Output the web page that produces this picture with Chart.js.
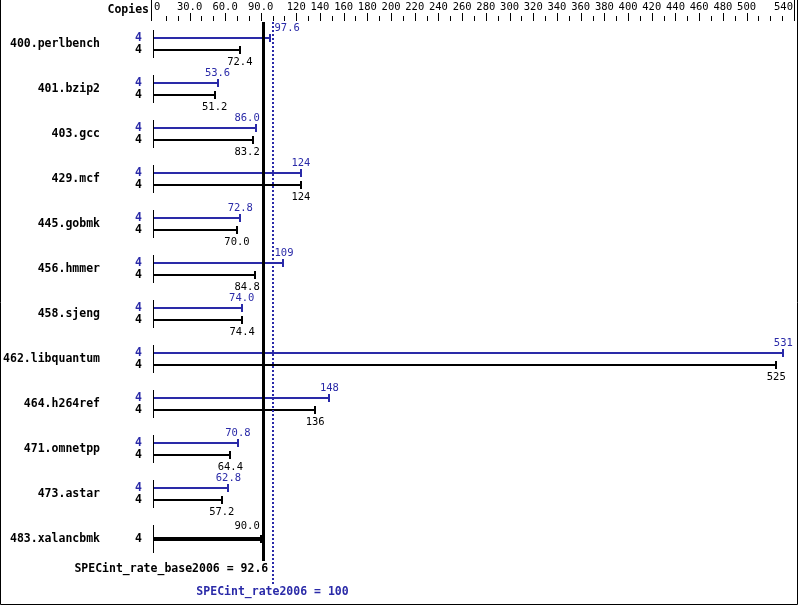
<!DOCTYPE html>
<html><head><meta charset="utf-8">
<script src="https://cdn.jsdelivr.net/npm/chart.js@4/dist/chart.umd.min.js"></script>
<style>html,body{margin:0;padding:0;background:#fff}canvas{display:block}</style>
</head><body>
<canvas id="c" width="799" height="606"></canvas>
<script>
const benchmarks = ['400.perlbench','401.bzip2','403.gcc','429.mcf','445.gobmk','456.hmmer',
  '458.sjeng','462.libquantum','464.h264ref','471.omnetpp','473.astar','483.xalancbmk'];
const peakValues = [97.6, 53.6, 86.0, 124, 72.8, 109, 74.0, 531, 148, 70.8, 62.8, null];
const baseValues = [72.4, 51.2, 83.2, 124, 70.0, 84.8, 74.4, 525, 136, 64.4, 57.2, 90.0];
const peakCopies = [4, 4, 4, 4, 4, 4, 4, 4, 4, 4, 4, null];
const baseCopies = [4, 4, 4, 4, 4, 4, 4, 4, 4, 4, 4, 4];
const tickLabels = ['0','30.0','60.0','90.0','120','140','160','180','200','220','240','260','280',
  '300','320','340','360','380','400','420','440','460','480','500','540'];
const axisMax = 540;
const baseScore = 92.6;
const peakScore = 100;
const baseScoreLabel = 'SPECint_rate_base2006 = 92.6';
const peakScoreLabel = 'SPECint_rate2006 = 100';

const BLUE = '#2a2aa8';
const MONO = '"DejaVu Sans Mono", "Liberation Mono", monospace';
const BOLD = 'bold 11.5px ' + MONO;
const REG = '10.5px ' + MONO;

function fmt(v) { return v.toPrecision(3); }

const overlay = {
  id: 'specOverlay',
  afterDatasetsDraw(chart) {
    const ctx = chart.ctx, xs = chart.scales.x, ys = chart.scales.y;
    const x0 = xs.getPixelForValue(0);
    const xBase = xs.getPixelForValue(baseScore);
    const xPeak = xs.getPixelForValue(peakScore);
    ctx.save();
    // outer border
    ctx.strokeStyle = '#000'; ctx.lineWidth = 1;
    ctx.beginPath();
    ctx.moveTo(0.5, 0); ctx.lineTo(0.5, 604.5); ctx.lineTo(797.5, 604.5); ctx.lineTo(797.5, 0);
    ctx.stroke();

    // header
    ctx.fillStyle = '#000';
    ctx.font = BOLD; ctx.textAlign = 'right'; ctx.textBaseline = 'middle';
    ctx.fillText('Copies', 149, 10);
    ctx.beginPath();
    ctx.moveTo(151.5, 0); ctx.lineTo(151.5, 21);
    ctx.moveTo(Math.round(xs.getPixelForValue(axisMax)) + 0.5, 0);
    ctx.lineTo(Math.round(xs.getPixelForValue(axisMax)) + 0.5, 21);
    ctx.stroke();
    const labeled = tickLabels.map(Number);
    for (let v = 10; v < axisMax; v += 10) {
      const px = Math.round(xs.getPixelForValue(v)) + 0.5;
      const long = labeled.includes(v);
      ctx.beginPath(); ctx.moveTo(px, long ? 13 : 16); ctx.lineTo(px, 21); ctx.stroke();
    }
    ctx.font = REG; ctx.textAlign = 'left';
    const xEnd = xs.getPixelForValue(axisMax);
    tickLabels.forEach(t => {
      const px = xs.getPixelForValue(Number(t));
      const w = ctx.measureText(t).width;
      let l = px - w / 2;
      if (l < x0) l = x0;
      if (l + w > xEnd - 1) l = xEnd - 1 - w;
      ctx.fillText(t, l, 7);
    });

    // groups
    const metaP = chart.getDatasetMeta(0), metaB = chart.getDatasetMeta(1);
    function valueLabel(text, xEndBar, y, color) {
      ctx.font = REG; ctx.fillStyle = color; ctx.textAlign = 'left'; ctx.textBaseline = 'middle';
      const w = ctx.measureText(text).width;
      let l = xEndBar - w / 2, r = l + w;
      if (r > xBase - 3 && l < xPeak + 2) {
        if (xEndBar < xBase) l = xBase - 4 - w; else l = xPeak + 2;
      }
      ctx.fillText(text, l, y);
    }
    function cap(x, y, color) {
      ctx.fillStyle = color;
      ctx.fillRect(Math.round(x) - 1, Math.round(y) - 4, 2, 8);
    }
    benchmarks.forEach((name, i) => {
      const cy = ys.getPixelForValue(i);
      ctx.fillStyle = '#000'; ctx.font = BOLD; ctx.textAlign = 'right'; ctx.textBaseline = 'middle';
      ctx.fillText(name, 100, cy);
      ctx.fillRect(Math.round(x0) - 1, Math.round(cy) - 14, 1, 28);
      const thick = peakValues[i] == null;
      if (!thick) {
        const bp = metaP.data[i];
        cap(bp.x, bp.y, BLUE);
        ctx.fillStyle = BLUE; ctx.font = BOLD; ctx.textAlign = 'right'; ctx.textBaseline = 'middle';
        ctx.fillText(String(peakCopies[i]), 142, bp.y);
        valueLabel(fmt(peakValues[i]), bp.x, bp.y - 10, BLUE);
      }
      const bb = metaB.data[i];
      cap(bb.x, bb.y, '#000');
      ctx.fillStyle = '#000'; ctx.font = BOLD; ctx.textAlign = 'right'; ctx.textBaseline = 'middle';
      ctx.fillText(String(baseCopies[i]), 142, bb.y);
      valueLabel(fmt(baseValues[i]), bb.x, thick ? bb.y - 13 : bb.y + 12, '#000');
    });

    // reference lines
    ctx.fillStyle = '#000';
    ctx.fillRect(Math.round(xBase) - 2, 22, 3, 539);
    ctx.strokeStyle = BLUE; ctx.lineWidth = 2; ctx.setLineDash([2, 2]);
    ctx.beginPath(); ctx.moveTo(Math.round(xPeak), 22); ctx.lineTo(Math.round(xPeak), 584); ctx.stroke();
    ctx.setLineDash([]);

    ctx.font = BOLD; ctx.textBaseline = 'middle';
    ctx.fillStyle = '#000'; ctx.textAlign = 'right';
    ctx.fillText(baseScoreLabel, xBase + 4.5, 569);
    ctx.fillStyle = BLUE; ctx.textAlign = 'center';
    ctx.fillText(peakScoreLabel, xPeak, 592);
    ctx.restore();
  }
};

new Chart(document.getElementById('c'), {
  type: 'bar',
  data: {
    labels: benchmarks,
    datasets: [
      { label: 'Peak', data: peakValues, backgroundColor: BLUE, borderWidth: 0,
        categoryPercentage: 24 / 45, barPercentage: 1 / 6, skipNull: true, inflateAmount: 0 },
      { label: 'Base', data: baseValues, backgroundColor: '#000', borderWidth: 0,
        categoryPercentage: 24 / 45, barPercentage: 1 / 6, skipNull: true, inflateAmount: 0 }
    ]
  },
  options: {
    indexAxis: 'y', responsive: false, animation: false, devicePixelRatio: 1,
    layout: { padding: { left: 154, right: 5, top: 21.5, bottom: 44.5 } },
    plugins: { legend: { display: false }, tooltip: { enabled: false } },
    scales: {
      x: { type: 'linear', min: 0, max: axisMax, display: false },
      y: { type: 'category', display: false, offset: true }
    }
  },
  plugins: [overlay]
});
</script>
</body></html>
